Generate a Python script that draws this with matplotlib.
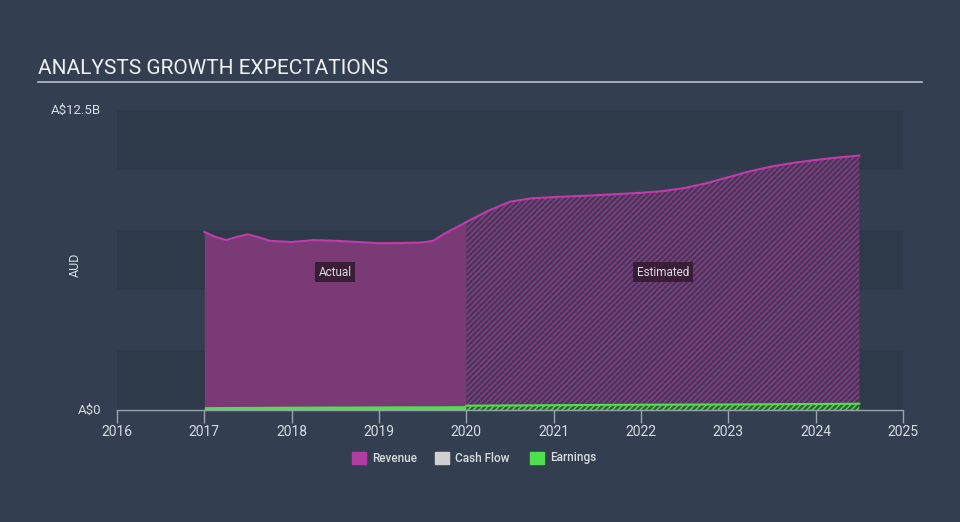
import matplotlib.pyplot as plt
import numpy as np

plt.rcParams['font.family'] = ['Roboto', 'DejaVu Sans']
plt.rcParams['hatch.linewidth'] = 1.0

# revenue (A$ billions)
rev_actual_x = [2017.0, 2017.12, 2017.25, 2017.38, 2017.5, 2017.62, 2017.75, 2018.0, 2018.25, 2018.5,
                2018.75, 2019.0, 2019.25, 2019.5, 2019.62, 2019.75, 2019.88, 2020.0]
rev_actual_y = [7.42, 7.22, 7.08, 7.22, 7.32, 7.2, 7.05, 7.0, 7.08, 7.05,
                7.0, 6.95, 6.96, 6.98, 7.05, 7.35, 7.6, 7.83]
rev_est_x = [2020.0, 2020.25, 2020.5, 2020.75, 2021.0, 2021.5, 2022.0, 2022.25, 2022.5, 2022.75,
             2023.0, 2023.25, 2023.5, 2023.75, 2024.0, 2024.25, 2024.5]
rev_est_y = [7.83, 8.3, 8.68, 8.82, 8.87, 8.95, 9.05, 9.12, 9.25, 9.45,
             9.7, 9.95, 10.15, 10.3, 10.42, 10.52, 10.6]

# earnings (A$ billions)
earn_actual_x = [2017.0, 2018.0, 2019.0, 2020.0]
earn_actual_y = [0.14, 0.16, 0.17, 0.18]
earn_est_x = [2020.0, 2021.0, 2022.0, 2023.0, 2024.0, 2024.5]
earn_est_y = [0.18, 0.2, 0.22, 0.23, 0.25, 0.26]

years = [2016, 2017, 2018, 2019, 2020, 2021, 2022, 2023, 2024, 2025]

bg = '#333f50'
band_dark = '#2e3a4a'
text_col = '#d8dce0'
rev_line = '#c23ba8'
rev_fill = '#7a3a76'
earn_col = '#4ee04e'

fig = plt.figure(figsize=(9.6, 5.22), dpi=100)
fig.patch.set_facecolor(bg)
ax = fig.add_axes([117 / 960, 1 - 410 / 522, 786 / 960, 300 / 522])
ax.set_facecolor(bg)

ax.set_xlim(2016, 2025)
ax.set_ylim(0, 12.5)

# alternating horizontal bands
for i in range(5):
    if i % 2 == 0:
        ax.axhspan(i * 2.5, (i + 1) * 2.5, color=band_dark, lw=0, zorder=0)

# revenue actual
ax.fill_between(rev_actual_x, 0, rev_actual_y, color=rev_fill, lw=0, zorder=1)
ax.plot(rev_actual_x, rev_actual_y, color=rev_line, lw=1.5, zorder=3)
# revenue estimated (hatched)
ax.fill_between(rev_est_x, 0, rev_est_y, facecolor='#443a58', edgecolor='#93398c',
                hatch='//////', lw=0, zorder=1)
ax.plot(rev_est_x, rev_est_y, color=rev_line, lw=1.5, zorder=3)

# earnings
ax.fill_between(earn_actual_x, 0, earn_actual_y, color=earn_col, lw=0, zorder=2)
ax.fill_between(earn_est_x, 0, earn_est_y, facecolor='#3a5a3a', edgecolor=earn_col,
                hatch='//////', lw=0, zorder=2)
ax.plot(earn_est_x, earn_est_y, color=earn_col, lw=1.5, zorder=3)

# labels inside
box = dict(boxstyle='square,pad=0.3', fc='#3a1d36', ec='none')
ax.text(2018.5, 5.75, 'Actual', color=text_col, fontsize=8.5, ha='center', va='center', bbox=box, zorder=5)
ax.text(2022.25, 5.75, 'Estimated', color=text_col, fontsize=8.5, ha='center', va='center', bbox=box, zorder=5)

# axes styling
for s in ['top', 'right', 'left']:
    ax.spines[s].set_visible(False)
ax.spines['bottom'].set_color('#9aa3ad')
ax.spines['bottom'].set_linewidth(1)
ax.set_xticks(years)
ax.set_xticklabels([str(y) for y in years])
ax.tick_params(axis='x', colors='#9aa3ad', length=9, width=1, labelcolor=text_col, labelsize=10, pad=2)
ax.set_yticks([])
ax.text(-0.02, 1.0, 'A$12.5B', transform=ax.transAxes, color=text_col, fontsize=9.5, ha='right', va='center')
ax.text(-0.02, 0.0, 'A$0', transform=ax.transAxes, color=text_col, fontsize=9.5, ha='right', va='center')
fig.text(75 / 960, 1 - 265 / 522, 'AUD', color=text_col, fontsize=9, rotation=90, ha='center', va='center')

# title and rule
fig.text(38 / 960, 1 - 68 / 522, 'ANALYSTS GROWTH EXPECTATIONS', color='#eef0f2', fontsize=15, ha='left', va='center')
fig.add_artist(plt.Line2D([38 / 960, 922 / 960], [1 - 82 / 522, 1 - 82 / 522], color='#b8bec6', lw=1.2))

# legend
legend_items = [('Revenue', '#b03ea0'), ('Cash Flow', '#d0d0d0'), ('Earnings', earn_col)]
xs = [352, 435, 530]
for (name, col), x0 in zip(legend_items, xs):
    fig.patches.append(plt.Rectangle((x0 / 960, 1 - 464 / 522), 14 / 960, 12 / 522,
                                     transform=fig.transFigure, color=col, figure=fig))
    fig.text((x0 + 20) / 960, 1 - 458 / 522, name, color=text_col, fontsize=8.5,
             fontweight='medium', ha='left', va='center')

fig.savefig('out.png', dpi=100, facecolor=bg)
